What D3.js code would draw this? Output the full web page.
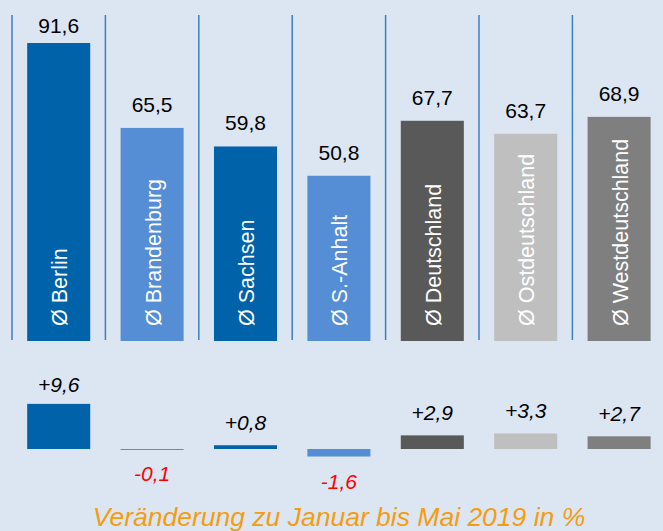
<!DOCTYPE html>
<html>
<head>
<meta charset="utf-8">
<script src="https://cdn.jsdelivr.net/npm/d3@7"></script>
<style>
  body { margin: 0; background: #dce6f2; }
  svg { display: block; font-family: "Liberation Sans", Arial, sans-serif; }
</style>
</head>
<body>
<div id="chart"></div>
<script>
// data
const regions = ['Ø Berlin', 'Ø Brandenburg', 'Ø Sachsen', 'Ø S.-Anhalt', 'Ø Deutschland', 'Ø Ostdeutschland', 'Ø Westdeutschland'];
const averages = [91.6, 65.5, 59.8, 50.8, 67.7, 63.7, 68.9];
const changes = [9.6, -0.1, 0.8, -1.6, 2.9, 3.3, 2.7];
const colors = ['#0062a8', '#558ed5', '#0062a8', '#558ed5', '#595959', '#bfbfbf', '#7f7f7f'];
const footnote = 'Veränderung zu Januar bis Mai 2019 in %';

const fmt = v => String(v.toFixed(1)).replace('.', ',');
const fmtSigned = v => (v > 0 ? '+' : '') + fmt(v);

// general settings
const width = 663, height = 531;
const data = regions.map((name, i) => ({ name, avg: averages[i], change: changes[i], color: colors[i] }));

const svg = d3.select('#chart').append('svg')
    .attr('width', width)
    .attr('height', height);

svg.append('rect')
    .attr('width', width)
    .attr('height', height)
    .attr('fill', '#dce6f2');

const x = d3.scaleBand()
    .domain(regions)
    .range([12, 665.8])
    .paddingInner(0.325)
    .paddingOuter(0.1625);

const y = d3.scaleLinear().domain([0, 100]).range([341, 15.7]);
const yc = d3.scaleLinear().domain([0, 10]).range([449, 402]);

// separator lines between columns
const step = x.step();
svg.selectAll('line.sep')
    .data(regions)
    .join('line')
    .attr('class', 'sep')
    .attr('x1', (d, i) => 12 + i * step)
    .attr('x2', (d, i) => 12 + i * step)
    .attr('y1', 15)
    .attr('y2', 340)
    .attr('stroke', '#3a7fc4')
    .attr('stroke-width', 1.5);

// main bars
svg.selectAll('rect.bar')
    .data(data)
    .join('rect')
    .attr('class', 'bar')
    .attr('x', d => x(d.name))
    .attr('y', d => y(d.avg))
    .attr('width', x.bandwidth())
    .attr('height', d => y(0) - y(d.avg))
    .attr('fill', d => d.color);

// value labels
svg.selectAll('text.val')
    .data(data)
    .join('text')
    .attr('class', 'val')
    .attr('x', d => x(d.name) + x.bandwidth() / 2)
    .attr('y', d => Math.max(y(d.avg) - 16, 33))
    .attr('text-anchor', 'middle')
    .attr('font-size', 21)
    .attr('fill', '#000')
    .text(d => fmt(d.avg));

// rotated names inside bars
svg.selectAll('text.name')
    .data(data)
    .join('text')
    .attr('class', 'name')
    .attr('transform', d => `translate(${x(d.name) + x.bandwidth() / 2 + 1},${y(0) - 15}) rotate(-90)`)
    .attr('dy', '0.35em')
    .attr('font-size', 21.5)
    .attr('fill', '#fff')
    .text(d => d.name);

// change bars
svg.selectAll('rect.chg')
    .data(data)
    .join('rect')
    .attr('class', 'chg')
    .attr('x', d => x(d.name))
    .attr('y', d => Math.min(yc(d.change), yc(0)))
    .attr('width', x.bandwidth())
    .attr('height', d => Math.max(Math.abs(yc(d.change) - yc(0)), 1))
    .attr('fill', d => d.color);

// change labels
svg.selectAll('text.chg')
    .data(data)
    .join('text')
    .attr('class', 'chg')
    .attr('x', d => x(d.name) + x.bandwidth() / 2)
    .attr('y', d => d.change >= 0 ? Math.max(yc(d.change) - 15, 392) : yc(d.change) + 32)
    .attr('text-anchor', 'middle')
    .attr('font-size', 21)
    .attr('font-style', 'italic')
    .attr('fill', d => d.change >= 0 ? '#000' : '#ff0000')
    .text(d => fmtSigned(d.change));

// footnote
svg.append('text')
    .attr('x', 339)
    .attr('y', 526)
    .attr('text-anchor', 'middle')
    .attr('font-size', 26.5)
    .attr('font-style', 'italic')
    .attr('fill', '#f59c10')
    .text(footnote);
</script>
</body>
</html>
